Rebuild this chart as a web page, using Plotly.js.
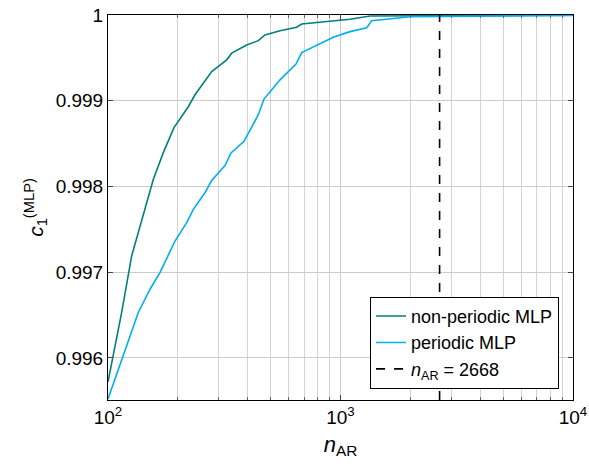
<!DOCTYPE html>
<html>
<head>
<meta charset="utf-8">
<script src="https://cdn.plot.ly/plotly-3.0.1.min.js"></script>
<style>html,body{margin:0;padding:0;background:#fff;}</style>
</head>
<body>
<div id="chart" style="width:589px;height:466px;"></div>
<script>
// non-periodic MLP
const nonPerX = [100, 114.5, 126.4, 139.6, 156.6, 172.9, 192.2, 221.5, 236.7, 279.3, 324.0, 340.4, 395.0, 443.1, 473.4, 549.4, 648.0, 680.9, 928.4, 1098.6, 1339.6, 10000];
const nonPerY = [0.995721, 0.996531, 0.997190, 0.997616, 0.998081, 0.998395, 0.998686, 0.998930, 0.999070, 0.999341, 0.999477, 0.999555, 0.999651, 0.999701, 0.999767, 0.999817, 0.999857, 0.999895, 0.999934, 0.999950, 0.999988, 0.999997];
// periodic MLP
const perX = [100, 114.5, 135.0, 151.6, 167.3, 194.2, 218.0, 232.8, 261.3, 279.3, 318.6, 338.1, 384.6, 443.1, 468.8, 549.4, 643.6, 680.9, 789.9, 931.1, 1098.6, 1296.5, 1362.4, 1990, 10000];
const perY = [0.995523, 0.995988, 0.996531, 0.996802, 0.996996, 0.997364, 0.997578, 0.997733, 0.997927, 0.998070, 0.998244, 0.998392, 0.998527, 0.998837, 0.999020, 0.999244, 0.999427, 0.999562, 0.999651, 0.999741, 0.999806, 0.999852, 0.999934, 0.999980, 0.999995];
// reference line
const nAR = 2668;
const yRange = [0.99551, 1.0];
const xTickVals = [100, 1000, 10000];
const xTickText = ['10<sup>2</sup>', '10<sup>3</sup>', '10<sup>4</sup>'];
const yTickVals = [0.996, 0.997, 0.998, 0.999, 1.0];
const yTickText = ['0.996', '0.997', '0.998', '0.999', '1'];

const fam = "'Liberation Sans', Arial, sans-serif";
const traces = [
  {x: nonPerX, y: nonPerY, mode: 'lines', name: 'non-periodic MLP', line: {color: '#00807c', width: 1.6}},
  {x: perX, y: perY, mode: 'lines', name: 'periodic MLP', line: {color: '#00aeef', width: 1.6}},
  {x: [nAR, nAR], y: yRange, mode: 'lines', name: '<i>n</i><sub>AR</sub> = ' + nAR, line: {color: '#000', width: 1.6, dash: 'dash'}}
];
const layout = {
  width: 589, height: 466,
  margin: {l: 108, r: 16, t: 15, b: 66},
  paper_bgcolor: '#fff', plot_bgcolor: '#fff',
  font: {family: fam, size: 17, color: '#000'},
  showlegend: true,
  legend: {x: 0.97, y: 0.029, xanchor: 'right', yanchor: 'bottom', bgcolor: '#fff', bordercolor: '#000', borderwidth: 1, font: {family: fam, size: 18}, tracegroupgap: 0},
  xaxis: {
    type: 'log', range: [2, 4],
    tickvals: xTickVals, ticktext: xTickText,
    ticks: 'inside', ticklen: 5, tickcolor: '#444',
    showline: true, linecolor: '#000', linewidth: 1, mirror: 'allticks',
    showgrid: true, gridcolor: '#cccccc', gridwidth: 1,
    minor: {dtick: 'D1', showgrid: true, gridcolor: '#d4d4d4', ticks: 'inside', ticklen: 3, tickcolor: '#666'},
    zeroline: false,
    tickfont: {family: fam, size: 19},
    title: {text: '<i>n</i><sub>AR</sub>', font: {family: fam, size: 22}, standoff: 9}
  },
  yaxis: {
    range: yRange,
    tickvals: yTickVals, ticktext: yTickText,
    ticks: 'inside', ticklen: 5, tickcolor: '#444',
    showline: true, linecolor: '#000', linewidth: 1, mirror: 'allticks',
    showgrid: true, gridcolor: '#cccccc', gridwidth: 1,
    zeroline: false,
    tickfont: {family: fam, size: 19},
    title: {text: '<i>c</i><sub>1</sub><sup>(MLP)</sup>', font: {family: fam, size: 21}, standoff: 6}
  }
};
Plotly.newPlot('chart', traces, layout, {displayModeBar: false, staticPlot: true});
</script>
</body>
</html>
